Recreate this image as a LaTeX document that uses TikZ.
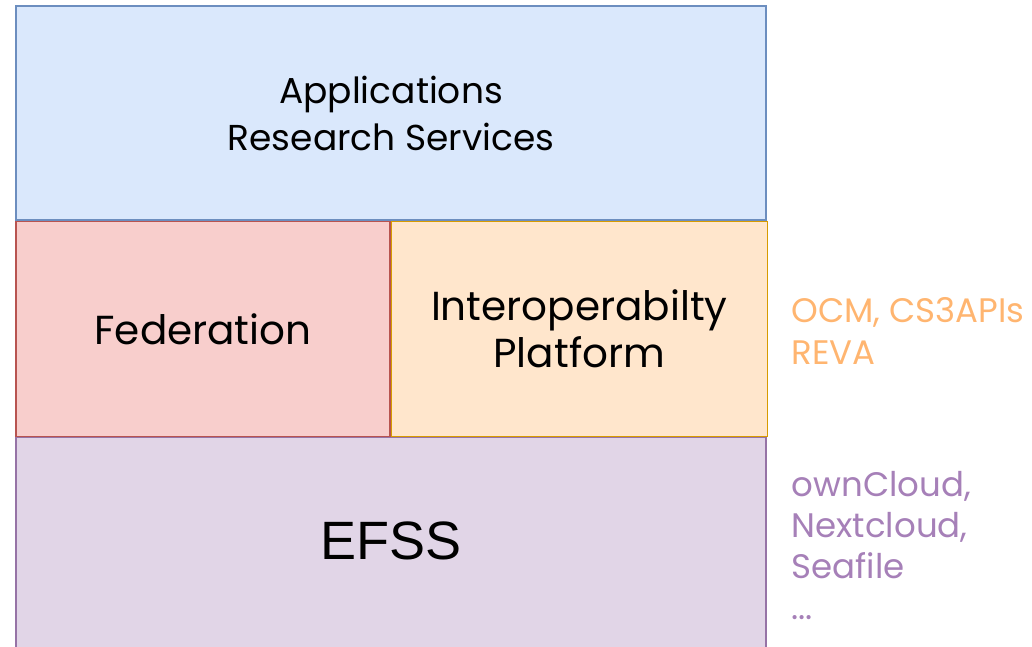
\documentclass[tikz,border=0pt]{standalone}
\usepackage{fontspec}
\setmainfont{Poppins}
\newfontfamily\efssfont{Liberation Sans}
\usetikzlibrary{positioning}
\definecolor{appsfill}{HTML}{DAE8FC}
\definecolor{appsline}{HTML}{6C8EBF}
\definecolor{fedfill}{HTML}{F8CECC}
\definecolor{fedline}{HTML}{B85450}
\definecolor{interfill}{HTML}{FFE6CC}
\definecolor{interline}{HTML}{D79B00}
\definecolor{efssfill}{HTML}{E1D5E7}
\definecolor{efssline}{HTML}{9673A6}
\definecolor{interlabel}{HTML}{FFB570}
\definecolor{efsslabel}{HTML}{A680B8}
\begin{document}
\begin{tikzpicture}[x=1pt, y=-1pt, line width=1.3pt,
        layer/.style = {draw, rectangle, inner sep=0pt, align=center},
        note/.style = {anchor=north west, align=left, inner sep=0pt}]
        \useasboundingbox (0,0) rectangle (1032,647);
        \node[layer, fill=appsfill, draw=appsline, minimum width=750, minimum height=214,
              font=\fontsize{36}{47}\selectfont] (apps) at (391,113) {Applications\\Research Services};
        \node[layer, fill=fedfill, draw=fedline, minimum width=374, minimum height=215,
              font=\fontsize{40.5}{47}\selectfont, below=0pt of apps.south west, anchor=north west] (fed) {Federation};
        \node[layer, fill=interfill, draw=interline, minimum width=376, minimum height=215,
              font=\fontsize{40.5}{47}\selectfont, anchor=north west] (inter) at (fed.north east) {Interoperabilty\\Platform};
        \node[layer, fill=efssfill, draw=efssline, minimum width=750, minimum height=220, text depth=14pt,
              font=\efssfont\fontsize{54}{60}\selectfont, anchor=north west] (efss) at (fed.south west) {EFSS};

        \node[note, text=interlabel, font=\fontsize{34}{42}\selectfont] (interapis) at (791,297) {OCM, CS3APIs\\REVA};
        \node[note, text=efsslabel, font=\fontsize{34}{41}\selectfont] (efssimpl) at (791,471) {ownCloud,\\Nextcloud,\\Seafile\\...};
\end{tikzpicture}
\end{document}
